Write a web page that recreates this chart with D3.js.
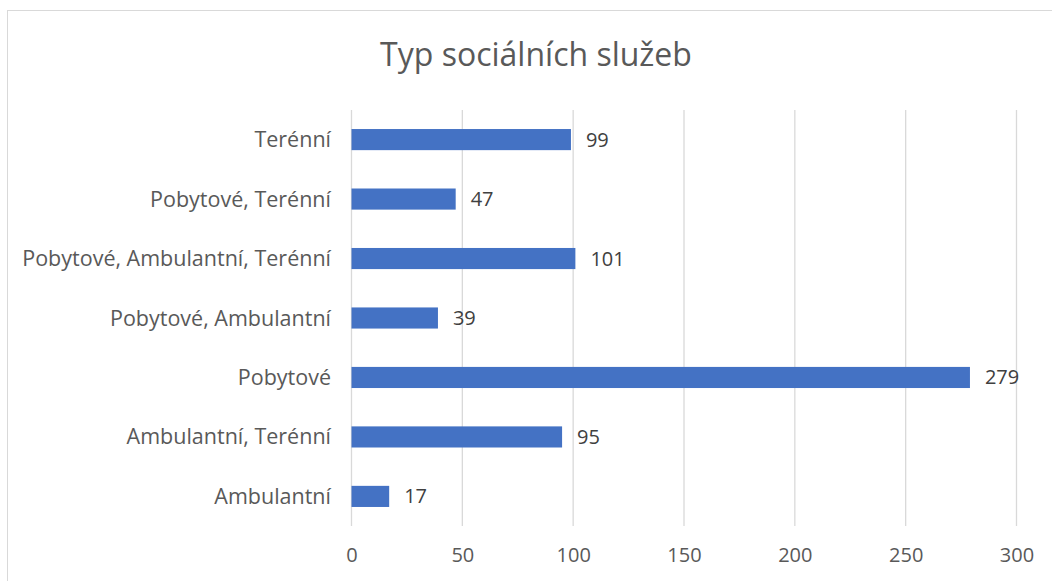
<!DOCTYPE html>
<html>
<head>
<meta charset="utf-8">
<script src="https://cdn.jsdelivr.net/npm/d3@7"></script>
<style>
  body { margin: 0; background: #fff; }
  svg { display: block; font-family: "Open Sans", "Noto Sans", sans-serif; }
</style>
</head>
<body>
<div id="chart"></div>
<script>
const categories = ['Terénní', 'Pobytové, Terénní', 'Pobytové, Ambulantní, Terénní',
  'Pobytové, Ambulantní', 'Pobytové', 'Ambulantní, Terénní', 'Ambulantní'];
const values = [99, 47, 101, 39, 279, 95, 17];
const xTicks = [0, 50, 100, 150, 200, 250, 300];
const title = 'Typ sociálních služeb';

const W = 1052, H = 581;
const plot = { left: 351.5, right: 1016.5, top: 110, bottom: 526 };

const svg = d3.select('#chart').append('svg')
  .attr('width', W)
  .attr('height', H);

// chart area border
svg.append('rect')
  .attr('x', 7.5).attr('y', 10.5)
  .attr('width', W + 10).attr('height', H + 10)
  .attr('fill', 'none')
  .attr('stroke', '#d9d9d9');

const x = d3.scaleLinear().domain([0, 300]).range([plot.left, plot.right]);
const y = d3.scaleBand().domain(categories).range([plot.top, plot.bottom]).paddingInner(0.645).paddingOuter(0.32);

// gridlines
svg.append('g').selectAll('line')
  .data(xTicks)
  .enter().append('line')
  .attr('x1', d => x(d)).attr('x2', d => x(d))
  .attr('y1', plot.top).attr('y2', plot.bottom)
  .attr('stroke', '#d9d9d9')
  .attr('stroke-width', 1.3);

// bars
svg.append('g').selectAll('rect')
  .data(values)
  .enter().append('rect')
  .attr('x', x(0))
  .attr('y', (d, i) => y(categories[i]))
  .attr('width', d => x(d) - x(0))
  .attr('height', y.bandwidth())
  .attr('fill', '#4472c4');

// value labels
svg.append('g').selectAll('text')
  .data(values)
  .enter().append('text')
  .attr('x', d => x(d) + 15)
  .attr('y', (d, i) => y(categories[i]) + y.bandwidth() / 2)
  .attr('dy', '0.35em')
  .attr('font-size', 20)
  .attr('fill', '#404040')
  .text(d => d);

// category labels
svg.append('g').selectAll('text')
  .data(categories)
  .enter().append('text')
  .attr('x', 331)
  .attr('y', d => y(d) + y.bandwidth() / 2)
  .attr('dy', '0.35em')
  .attr('text-anchor', 'end')
  .attr('font-size', 21.5)
  .attr('fill', '#595959')
  .text(d => d);

// x axis labels
const xAxis = svg.append('g')
  .attr('transform', 'translate(0,' + 555 + ')')
  .call(d3.axisBottom(x).tickValues(xTicks).tickSize(0).tickPadding(0));
xAxis.select('.domain').remove();
xAxis.selectAll('text')
  .attr('font-size', 20)
  .attr('font-family', '"Open Sans", "Noto Sans", sans-serif')
  .attr('fill', '#595959')
  .attr('dy', '0.35em');

// title
svg.append('text')
  .attr('x', 536)
  .attr('y', 66)
  .attr('text-anchor', 'middle')
  .attr('font-size', 32)
  .attr('fill', '#595959')
  .text(title);
</script>
</body>
</html>
